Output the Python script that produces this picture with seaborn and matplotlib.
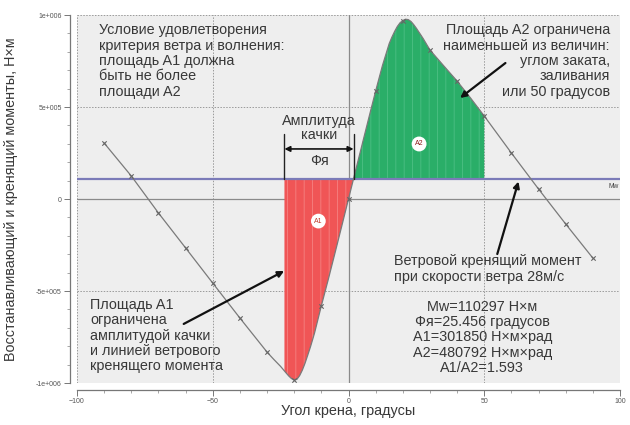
import numpy as np
import matplotlib
matplotlib.use("Agg")
import matplotlib.pyplot as plt
import seaborn as sns

# Righting moment curve (heel angle, degrees -> moment, N*m)
angle = [-90, -80, -70, -60, -50, -40, -30, -27.5, -25, -23, -22, -21, -20, -19, -18,
         -17, -16, -15, -14, -12.5, -10, -7.5, -5, -2.5, 0, 2.5, 5, 7.5, 10, 12.5,
         15, 16, 17, 18, 19, 20, 21, 22, 23, 24, 25, 27.5, 30, 35, 40, 45, 50, 60,
         70, 80, 90]
moment = [304e3, 125e3, -76e3, -266e3, -457e3, -647e3, -832e3, -872e3, -910e3, -945e3,
          -962e3, -976e3, -984e3, -980e3, -960e3, -930e3, -892e3, -848e3, -803e3,
          -728e3, -580e3, -440e3, -295e3, -148e3, 0, 148e3, 295e3, 442e3, 587e3,
          725e3, 845e3, 880e3, 911e3, 938e3, 958e3, 970e3, 977e3, 975e3, 965e3,
          948e3, 928e3, 872e3, 810e3, 725e3, 641e3, 548e3, 451e3, 250e3, 54e3,
          -136e3, -321e3]

mw = 110297          # wind heeling moment, N*m
phi_r = 25.456       # roll amplitude, degrees
area_a1 = 301850
area_a2 = 480792
ratio = 1.593
a2_limit = 50        # upper bound of area A2, degrees

x_ticks = [-100, -50, 0, 50, 100]
y_ticks = [-1e6, -5e5, 0, 5e5, 1e6]
y_tick_labels = ["-1e+006", "-5e+005", "0", "5e+005", "1e+006"]

sns.set_theme(style="white")
plt.rcParams["font.family"] = ["Liberation Sans", "DejaVu Sans"]
plt.rcParams["hatch.linewidth"] = 0.6

fig = plt.figure(figsize=(6.3, 4.25), dpi=100)
ax = fig.add_axes([77 / 630, 42 / 425, 543 / 630, 368 / 425])
ax.set_facecolor("#eeeeee")

ang = np.asarray(angle, float)
mom = np.asarray(moment, float)

# static equilibrium angle: where the curve meets the heeling moment line
mid = (ang >= -20) & (ang <= 20)
theta0 = np.interp(mw, mom[mid], ang[mid])
theta_left = theta0 - phi_r

# area A1 (red)
sel1 = (ang > theta_left) & (ang < theta0)
x1 = np.concatenate([[theta_left], ang[sel1], [theta0]])
y1 = np.interp(x1, ang, mom)
ax.fill_between(x1, y1, mw, facecolor="#f05556", edgecolor="#f58282",
                hatch="||", linewidth=0, zorder=2)

# area A2 (green)
sel2 = (ang > theta0) & (ang < a2_limit)
x2 = np.concatenate([[theta0], ang[sel2], [a2_limit]])
y2 = np.interp(x2, ang, mom)
ax.fill_between(x2, mw, y2, facecolor="#2aae68", edgecolor="#4dbf84",
                hatch="||", linewidth=0, zorder=2)

# zero lines
ax.axhline(0, color="#8a8a8a", lw=0.9, zorder=1)
ax.axvline(0, color="#8a8a8a", lw=0.9, zorder=1)

# righting moment curve with markers every 10 degrees
sns.lineplot(x=ang, y=mom, ax=ax, color="#7a7a7a", lw=0.9, zorder=4, sort=False)
mk = np.isclose(np.mod(ang, 10), 0)
sns.scatterplot(x=ang[mk], y=mom[mk], ax=ax, marker="x", s=10, color="#666666",
                linewidth=0.8, zorder=5)

# wind heeling moment line
ax.axhline(mw, color="#7b7bb8", lw=1.6, zorder=3)
ax.text(99.5, mw - 25e3, "Mw", fontsize=4.8, color="#444444", ha="right", va="top")

# area markers
circ = dict(boxstyle="circle,pad=0.45", fc="white", ec="none")
ax.text(-11.1, -120e3, "A1", fontsize=5, color="#c0392b", ha="center", va="center",
        bbox=circ, zorder=6)
ax.text(26, 299e3, "A2", fontsize=5, color="#8b1a1a", ha="center", va="center",
        bbox=circ, zorder=6)

tc = "#383838"
fs = 10.4
ls = 1.12

# roll amplitude dimension
for xv in (theta_left, theta0):
    ax.plot([xv, xv], [mw, 355e3], color="#222222", lw=1.0, zorder=6)
ax.annotate("", xy=(theta_left, 272e3), xytext=(theta0, 272e3),
            arrowprops=dict(arrowstyle="<|-|>", color="#111111", lw=1.2,
                            mutation_scale=8, shrinkA=0, shrinkB=0), zorder=6)
xm = (theta_left + theta0) / 2
ax.text(xm, 386e3, "Амплитуда\nкачки", fontsize=fs, color=tc, ha="center",
        va="center", linespacing=1.0)
ax.text(xm, 207e3, "Фя", fontsize=fs, color=tc, ha="center", va="center")

ax.text(-92, 955e3, "Условие удовлетворения\nкритерия ветра и волнения:\n"
        "площадь A1 должна\nбыть не более\nплощади A2",
        fontsize=fs, color=tc, ha="left", va="top", linespacing=ls)
ax.text(96.3, 955e3, "Площадь A2 ограничена\nнаименьшей из величин:\n"
        "углом заката,\nзаливания\nили 50 градусов",
        fontsize=fs, color=tc, ha="right", va="top", linespacing=ls)
ax.text(16.7, -300e3, "Ветровой кренящий момент\nпри скорости ветра 28м/с",
        fontsize=fs, color=tc, ha="left", va="top", linespacing=ls)
ax.text(49.3, -548e3,
        f"Mw={mw} Н×м\nФя={phi_r} градусов\nA1={area_a1} Н×м×рад\n"
        f"A2={area_a2} Н×м×рад\nA1/A2={ratio}",
        fontsize=fs, color=tc, ha="center", va="top", linespacing=ls)
ax.text(-95.2, -538e3, "Площадь A1\nограничена\nамплитудой качки\n"
        "и линией ветрового\nкренящего момента",
        fontsize=fs, color=tc, ha="left", va="top", linespacing=ls)

arrow = dict(arrowstyle="-|>", color="#111111", lw=1.6, mutation_scale=9,
             shrinkA=0, shrinkB=0)
ax.annotate("", xy=(41.1, 549e3), xytext=(57.8, 739e3), arrowprops=arrow, zorder=7)
ax.annotate("", xy=(62.6, 95e3), xytext=(54.8, -299e3), arrowprops=arrow, zorder=7)
ax.annotate("", xy=(-23.7, -391e3), xytext=(-60.7, -679e3), arrowprops=arrow, zorder=7)

# axes, ticks and grid
ax.set_xlim(-100, 100)
ax.set_ylim(-1e6, 1e6)
ax.set_xticks(x_ticks)
ax.set_xticks(np.arange(-100, 101, 10), minor=True)
ax.set_yticks(y_ticks)
ax.set_yticklabels(y_tick_labels)
ax.set_yticks(np.arange(-1e6, 1e6 + 1, 1e5), minor=True)
ax.tick_params(which="major", labelsize=5, labelcolor="#555555", length=4,
               width=0.7, color="#777777", left=True, bottom=True, pad=2)
ax.tick_params(which="minor", length=2, width=0.6, color="#999999",
               left=True, bottom=True)
ax.grid(True, which="major", linestyle=(0, (1.5, 1.5)), color="#9a9a9a", lw=0.7)
ax.set_axisbelow(True)

for side in ("top", "right"):
    ax.spines[side].set_visible(False)
for side in ("left", "bottom"):
    ax.spines[side].set_position(("outward", 5))
    ax.spines[side].set_color("#777777")
    ax.spines[side].set_linewidth(0.9)

ax.set_xlabel("Угол крена, градусы", fontsize=10.4, color=tc)
ax.set_ylabel("Восстанавливающий и кренящий моменты, Н×м", fontsize=10.4, color=tc)
ax.xaxis.set_label_coords(0.5, -0.058)
ax.yaxis.set_label_coords(-0.108, 0.5)

fig.savefig("out.png", dpi=100)
